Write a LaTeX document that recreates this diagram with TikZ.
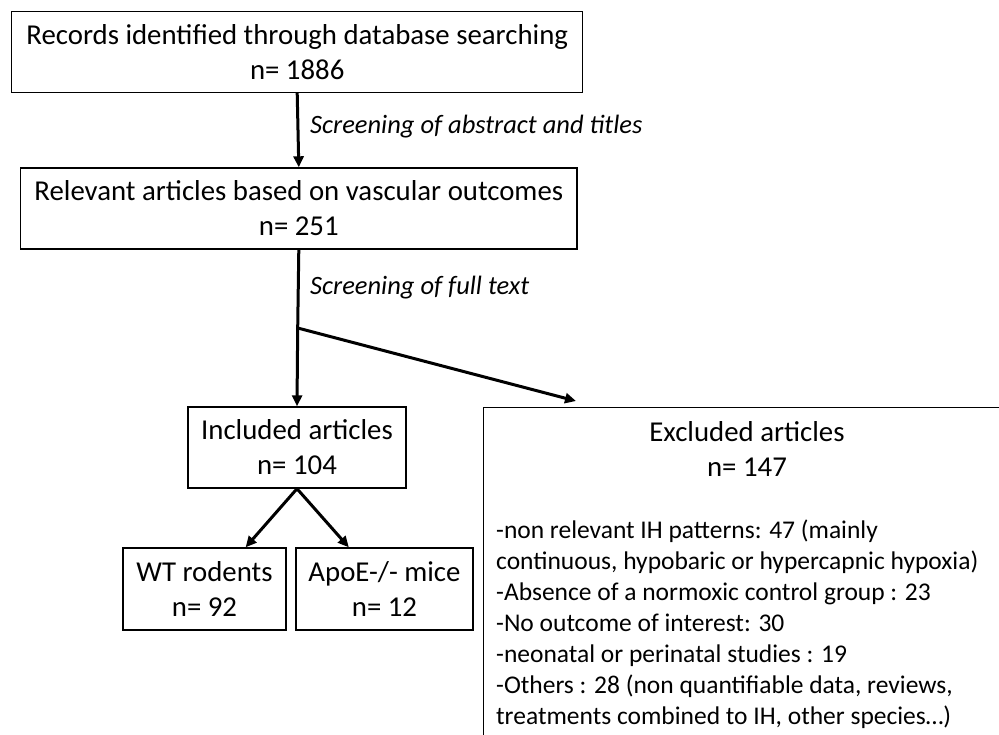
\documentclass[tikz,border=0pt]{standalone}
\usepackage{fontspec}
\setmainfont{Carlito}
\usetikzlibrary{arrows.meta,calc}
\begin{document}
\begin{tikzpicture}[x=1pt,y=-1pt,
  box/.style={draw=black,line width=1.4pt,inner sep=0pt,align=center,
    font=\fontsize{28.8}{35}\selectfont},
  lab/.style={font=\fontsize{26.5}{31}\selectfont\itshape,anchor=west,inner sep=0pt},
  txt/.style={font=\fontsize{25.5}{31}\selectfont,inner sep=0pt},
  arr/.style={line width=3pt,-{Triangle[length=11pt,width=10pt]}},
  ln/.style={line width=3pt}]
\useasboundingbox (0,0) rectangle (999,734);
\clip (0,0) rectangle (999,734);
\node[box,minimum width=571pt,minimum height=80.6pt] (rec) at (297.2,52) {Records identified through database searching\\n= 1886};
\node[box,minimum width=556.3pt,minimum height=81pt] (rel) at (298.8,208.5) {Relevant articles based on vascular outcomes\\n= 251};
\node[box,minimum width=218pt,minimum height=81pt] (inc) at (297,447.5) {Included articles\\n= 104};
\node[box,minimum width=163pt,minimum height=82pt] (wt) at (204.5,589) {WT rodents\\n= 92};
\node[box,minimum width=177pt,minimum height=82pt] (apo) at (384.5,589) {ApoE-/- mice\\n= 12};
\node[box,minimum width=560pt,minimum height=360pt,anchor=north west] (exc) at (483,407) {};
\node[txt,align=center,font=\fontsize{28.8}{35}\selectfont] (exct) at (747,448.5) {Excluded articles\\n= 147};
\node[txt,align=left,anchor=north west] (excl) at (496,520) {-non relevant IH patterns: 47 (mainly\\continuous, hypobaric or hypercapnic hypoxia)\\-Absence of a normoxic control group : 23\\-No outcome of interest: 30\\-neonatal or perinatal studies : 19\\-Others : 28 (non quantifiable data, reviews,\\treatments combined to IH, other species…)};
\coordinate (j) at (297.7,328);
\coordinate (et) at (576,401);
\draw[arr] (rec.south) -- (rel.north);
\draw[ln] (rel.south) -- (j);
\draw[arr] (j) -- (inc.north);
\draw[arr] (j) -- (et);
\draw[arr] (inc.south) -- ($(wt.north west)!0.75!(wt.north east)$);
\draw[arr] (inc.south) -- ($(apo.north west)!0.3!(apo.north east)$);
\node[lab] (l1) at (310,127) {Screening of abstract and titles};
\node[lab] (l2) at (310,288) {Screening of full text};
\end{tikzpicture}
\end{document}
